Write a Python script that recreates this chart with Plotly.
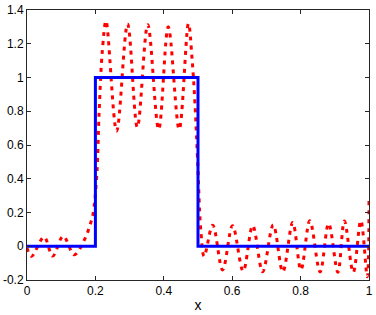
import plotly.graph_objects as go

# Exact step function (blue)
step_x = [0.0, 0.2, 0.2, 0.5, 0.5, 1.0]
step_y = [0.0, 0.0, 1.0, 1.0, 0.0, 0.0]

# Oscillating approximation (red, dotted)
approx_x = [0.0, 0.013, 0.050, 0.075, 0.106, 0.138, 0.170, 0.184, 0.193,
            0.204, 0.211, 0.220, 0.231, 0.262, 0.294, 0.3225, 0.353, 0.385,
            0.413, 0.445, 0.472, 0.483, 0.491, 0.499, 0.508, 0.518, 0.543,
            0.572, 0.601, 0.632, 0.660, 0.689, 0.720, 0.748, 0.777, 0.801,
            0.827, 0.857, 0.882, 0.909, 0.928, 0.954, 0.976, 0.995, 1.0]
approx_y = [-0.01, -0.06, 0.055, -0.058, 0.06, -0.05, 0.047, 0.125, 0.19,
            0.42, 0.80, 1.15, 1.335, 0.683, 1.317, 0.705, 1.313, 0.693,
            1.30, 0.693, 1.32, 1.10, 0.85, 0.50, 0.10, -0.06, 0.125,
            -0.14, 0.122, -0.147, 0.122, -0.151, 0.126, -0.151, 0.14, -0.14,
            0.151, -0.152, 0.135, -0.154, 0.15, -0.155, 0.152, -0.18, 0.28]

x_ticks = [0, 0.2, 0.4, 0.6, 0.8, 1]
x_tick_labels = ["0", "0.2", "0.4", "0.6", "0.8", "1"]
y_ticks = [-0.2, 0, 0.2, 0.4, 0.6, 0.8, 1.0, 1.2, 1.4]
y_tick_labels = ["-0.2", "0", "0.2", "0.4", "0.6", "0.8", "1", "1.2", "1.4"]

FONT = "Liberation Sans, Arial, sans-serif"

fig = go.Figure()
fig.add_trace(go.Scatter(
    x=approx_x, y=approx_y, mode="lines",
    line=dict(color="#ff0000", width=3, dash="4px,5px", shape="spline", smoothing=1.0),
    showlegend=False, hoverinfo="skip"))
fig.add_trace(go.Scatter(
    x=step_x, y=step_y, mode="lines",
    line=dict(color="#0000ff", width=3),
    showlegend=False, hoverinfo="skip"))

axis_common = dict(
    showgrid=False, zeroline=False, showline=True, linecolor="#262626",
    linewidth=1, mirror="ticks", ticks="inside", ticklen=4, tickcolor="#262626",
    automargin=False,
    tickfont=dict(family=FONT, size=12, color="#000"),
)

fig.update_layout(
    width=376, height=315,
    margin=dict(l=27, r=7, t=10, b=35),
    paper_bgcolor="white", plot_bgcolor="white",
    xaxis=dict(range=[0, 1], tickvals=x_ticks, ticktext=x_tick_labels,
               title=dict(text="x", standoff=2,
                          font=dict(family=FONT, size=14, color="#000")),
               **axis_common),
    yaxis=dict(range=[-0.2, 1.4], tickvals=y_ticks, ticktext=y_tick_labels,
               **axis_common),
)

fig.write_html("out.html",
               config={"displayModeBar": False, "staticPlot": True},
               post_script="document.body.style.margin='0';document.body.style.overflow='hidden';")
